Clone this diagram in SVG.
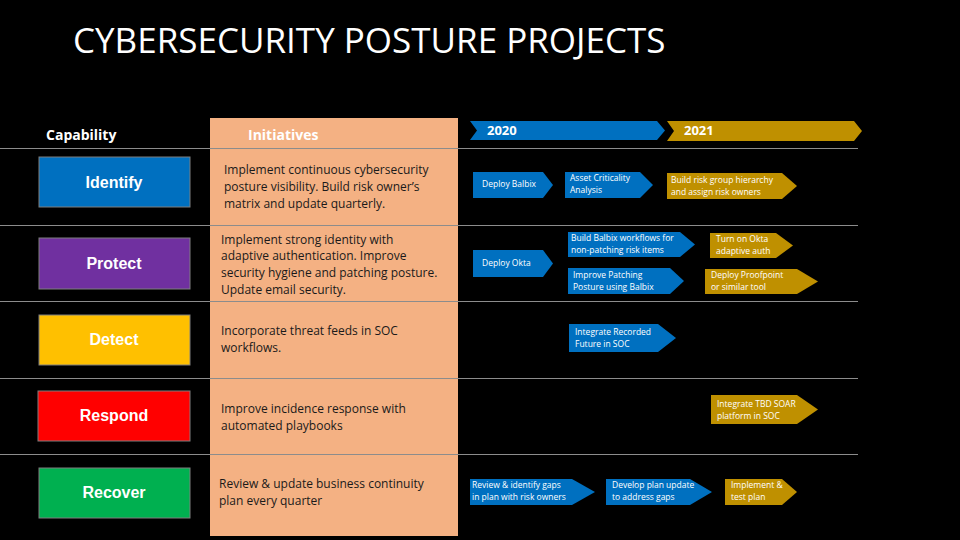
<svg xmlns="http://www.w3.org/2000/svg" width="960" height="540" viewBox="0 0 960 540">
<style>
.t{font-family:"Open Sans","Liberation Sans",sans-serif}
.cap{font-family:"Liberation Sans",Arial,sans-serif;font-weight:bold;font-size:16px;fill:#fff;text-anchor:middle}
.init{font-family:"Open Sans","Liberation Sans",sans-serif;font-size:12px;fill:#1a1a1a}
.ch{font-family:"Open Sans","Liberation Sans",sans-serif;font-size:8.5px;fill:#fff}
.b{fill:#0070c0}.g{fill:#bf9000}
.rule{stroke:#8c8c8c;stroke-width:1}
</style>
<rect width="960" height="540" fill="#000"/>
<text x="73" y="53" class="t" font-size="35" fill="#fff">CYBERSECURITY POSTURE PROJECTS</text>
<rect x="210" y="118" width="248" height="418" fill="#f4b183"/>
<text x="46" y="140" class="t" font-size="14" font-weight="bold" fill="#fff">Capability</text>
<text x="248" y="140" class="t" font-size="14" font-weight="bold" fill="#fff">Initiatives</text>
<g id="rules">
<line x1="0" y1="148.5" x2="858" y2="148.5" class="rule"/>
<line x1="0" y1="225.5" x2="858" y2="225.5" class="rule"/>
<line x1="0" y1="301.5" x2="858" y2="301.5" class="rule"/>
<line x1="0" y1="378.5" x2="858" y2="378.5" class="rule"/>
<line x1="0" y1="454.5" x2="858" y2="454.5" class="rule"/>
</g>
<g id="identify"><rect x="39" y="157" width="151" height="50" fill="#0070c0" stroke="#7f7f7f"/><text x="114" y="188" class="cap">Identify</text></g>
<g id="protect"><rect x="39" y="238" width="151" height="51" fill="#7030a0" stroke="#7f7f7f"/><text x="114" y="269" class="cap">Protect</text></g>
<g id="detect"><rect x="39" y="315" width="151" height="50" fill="#ffc000" stroke="#7f7f7f"/><text x="114" y="345" class="cap">Detect</text></g>
<g id="respond"><rect x="38" y="391" width="152" height="50" fill="#ff0000" stroke="#7f7f7f"/><text x="114" y="421" class="cap">Respond</text></g>
<g id="recover"><rect x="39" y="468" width="151" height="50" fill="#00b050" stroke="#7f7f7f"/><text x="114" y="498" class="cap">Recover</text></g>
<g id="initiatives">
<text class="init"><tspan x="224" y="174">Implement continuous cybersecurity</tspan><tspan x="224" y="191">posture visibility. Build risk owner’s</tspan><tspan x="224" y="208">matrix and update quarterly.</tspan></text>
<text class="init"><tspan x="221" y="244">Implement strong identity with</tspan><tspan x="221" y="260">adaptive authentication. Improve</tspan><tspan x="221" y="277">security hygiene and patching posture.</tspan><tspan x="221" y="294">Update email security.</tspan></text>
<text class="init"><tspan x="221" y="335">Incorporate threat feeds in SOC</tspan><tspan x="221" y="352">workflows.</tspan></text>
<text class="init"><tspan x="221" y="413">Improve incidence response with</tspan><tspan x="221" y="430">automated playbooks</tspan></text>
<text class="init"><tspan x="219" y="488">Review &amp; update business continuity</tspan><tspan x="219" y="505">plan every quarter</tspan></text>
</g>
<g id="years">
<polygon points="470,121 657,121 665,130.5 657,140 470,140 477,130.5" class="b"/>
<text x="487" y="135" class="t" font-size="13" font-weight="bold" fill="#fff">2020</text>
<polygon points="667,121 854,121 862,131 854,141 667,141 674,131" class="g"/>
<text x="684" y="135" class="t" font-size="13" font-weight="bold" fill="#fff">2021</text>
</g>
<g id="tasks">
<polygon points="473,172 543,172 553,185 543,198 473,198" class="b"/><text x="482" y="187" class="ch">Deploy Balbix</text>
<polygon points="565,172 640,172 653,185 640,198 565,198" class="b"/><text class="ch"><tspan x="570" y="181">Asset Criticality</tspan><tspan x="570" y="193">Analysis</tspan></text>
<polygon points="667,173 782,173 797,186 782,199 667,199" class="g"/><text class="ch"><tspan x="671" y="183">Build risk group hierarchy</tspan><tspan x="671" y="195">and assign risk owners</tspan></text>
<polygon points="473,250 543,250 553,263.5 543,277 473,277" class="b"/><text x="482" y="266" class="ch">Deploy Okta</text>
<polygon points="568,232 680,232 695,244.5 680,257 568,257" class="b"/><text class="ch"><tspan x="571" y="241">Build Balbix workflows for</tspan><tspan x="571" y="253">non-patching risk items</tspan></text>
<polygon points="710,233 776,233 793,245.5 776,258 710,258" class="g"/><text class="ch"><tspan x="716" y="242">Turn on Okta</tspan><tspan x="716" y="254">adaptive auth</tspan></text>
<polygon points="568,268 670,268 684,281 670,294 568,294" class="b"/><text class="ch"><tspan x="573" y="278">Improve Patching</tspan><tspan x="573" y="290">Posture using Balbix</tspan></text>
<polygon points="705,269 797,269 818,281.5 797,294 705,294" class="g"/><text class="ch"><tspan x="711" y="278">Deploy Proofpoint</tspan><tspan x="711" y="290">or similar tool</tspan></text>
<polygon points="569,324 658,324 676,338 658,352 569,352" class="b"/><text class="ch"><tspan x="575" y="335">Integrate Recorded</tspan><tspan x="575" y="347">Future in SOC</tspan></text>
<polygon points="711,395 797,395 818,409.5 797,424 711,424" class="g"/><text class="ch"><tspan x="717" y="407">Integrate TBD SOAR</tspan><tspan x="717" y="419">platform in SOC</tspan></text>
<polygon points="470,479 572,479 595,492 572,505 470,505" class="b"/><text class="ch"><tspan x="472" y="488">Review &amp; identify gaps</tspan><tspan x="472" y="500">in plan with risk owners</tspan></text>
<polygon points="606,479 690,479 712,492 690,505 606,505" class="b"/><text class="ch"><tspan x="612" y="488">Develop plan update</tspan><tspan x="612" y="500">to address gaps</tspan></text>
<polygon points="725,479 782,479 797,492 782,505 725,505" class="g"/><text class="ch"><tspan x="731" y="488">Implement &amp;</tspan><tspan x="731" y="500">test plan</tspan></text>
</g>
</svg>
